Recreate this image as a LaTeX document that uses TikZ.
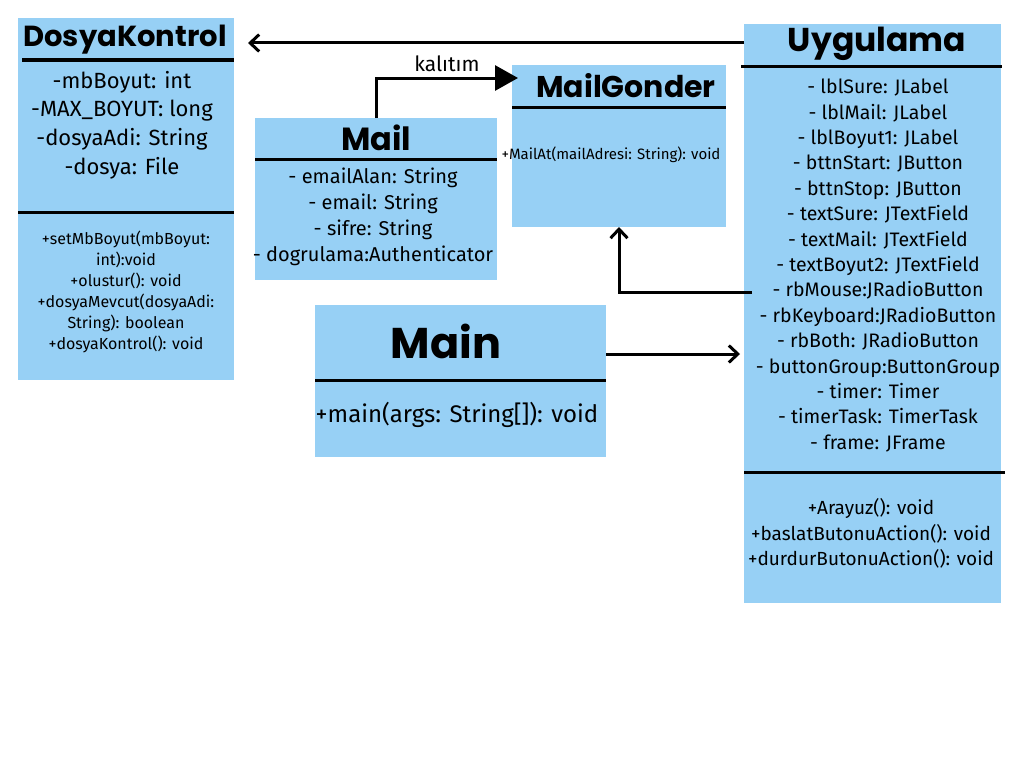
\documentclass[tikz,border=0pt]{standalone}
\usepackage{fontspec}
\setmainfont{Fira Sans}
\newfontfamily\headfont{Poppins}
\usetikzlibrary{arrows.meta}
\definecolor{boxBlue}{RGB}{151,208,245}

\begin{document}
\begin{tikzpicture}[x=1pt, y=-1pt,
    classbox/.style={fill=boxBlue, inner sep=0, outer sep=0, anchor=north west},
    cname/.style={font=\headfont\bfseries\fontsize{#1}{#1}\selectfont, inner sep=0},
    members/.style 2 args={align=center, inner sep=0, font=\fontsize{#1}{#2}\selectfont},
    sepline/.style={line width=3pt},
    assoc/.style={line width=3pt, -{Straight Barb[length=9pt, width=17pt]}},
    inherit/.style={line width=3pt, -{Triangle[length=23pt, width=25pt]}}]

\fill [white] (0,0) rectangle (1024,768);
\useasboundingbox (0,0) rectangle (1024,768);

% Boxes
\node [classbox, minimum width=216pt, minimum height=362pt] (dosya) at (18,18) {};
\node [classbox, minimum width=242pt, minimum height=162pt] (mail) at (255,118) {};
\node [classbox, minimum width=214pt, minimum height=162pt] (mgon) at (512,65) {};
\node [classbox, minimum width=257pt, minimum height=579pt] (uyg) at (744,24) {};
\node [classbox, minimum width=291pt, minimum height=152pt] (main) at (315,305) {};

% DosyaKontrol
\node [cname=29] (dosyaT) at (125,40) {DosyaKontrol};
\draw [sepline] (22,60) -- (234,60);
\node [members={22}{28.7}] (dosyaA) at (122,125)
    {-mbBoyut: int\\-MAX\_BOYUT: long\\-dosyaAdi: String\\-dosya: File};
\draw [sepline] (18,212) -- (234,212);
\node [members={16}{21}] (dosyaM) at (126,292)
    {+setMbBoyut(mbBoyut:\\int):void\\+olustur(): void\\+dosyaMevcut(dosyaAdi:\\String): boolean\\+dosyaKontrol(): void};

% Mail
\node [cname=32] (mailT) at (376,138) {Mail};
\draw [sepline] (255,159) -- (497,159);
\node [members={20}{26}] (mailA) at (373,217)
    {- emailAlan: String\\- email: String\\- sifre: String\\- dogrulama:Authenticator};

% MailGonder
\node [cname=30] (mgonT) at (626,86) {MailGonder};
\draw [sepline] (512,107) -- (726,107);
\node [members={15}{16}] (mgonM) at (611,155) {+MailAt(mailAdresi: String): void};

% Uygulama
\node [cname=33] (uygT) at (877,44) {Uygulama};
\draw [sepline] (741,66) -- (1002,66);
\node [members={19.5}{25.4}] (uygA) at (878,265.5)
    {- lblSure: JLabel\\- lblMail: JLabel\\- lblBoyut1: JLabel\\- bttnStart: JButton\\- bttnStop: JButton\\
     - textSure: JTextField\\- textMail: JTextField\\- textBoyut2: JTextField\\- rbMouse:JRadioButton\\
     - rbKeyboard:JRadioButton\\- rbBoth: JRadioButton\\- buttonGroup:ButtonGroup\\- timer: Timer\\
     - timerTask: TimerTask\\- frame: JFrame};
\draw [sepline] (744,472) -- (1005,472);
\node [members={19}{25.5}] (uygM) at (871,533.5)
    {+Arayuz(): void\\+baslatButonuAction(): void\\+durdurButonuAction(): void};

% Main
\node [cname=43] (mainT) at (446,341) {Main};
\draw [sepline] (315,380) -- (606,380);
\node [members={24}{26}] (mainM) at (457,415) {+main(args: String[]): void};

% Connectors
\draw [assoc, shorten >=14pt] ([yshift=-19pt]uyg.north west) -- ([yshift=-19pt]uyg.north west -| dosya.east);
\draw [inherit] (mail.north) |- ([xshift=6pt, yshift=-13pt]mgon.north west)
    node [pos=.75, above=1pt, font=\fontsize{21}{21}\selectfont] (kal) {kalıtım};
\draw [assoc] ([xshift=8pt, yshift=-268pt]uyg.north west) -| (mgon.south);
\draw [assoc, shorten >=4pt] ([yshift=27pt]main.east) -- ([yshift=27pt]main.east -| uyg.west);

\end{tikzpicture}
\end{document}
